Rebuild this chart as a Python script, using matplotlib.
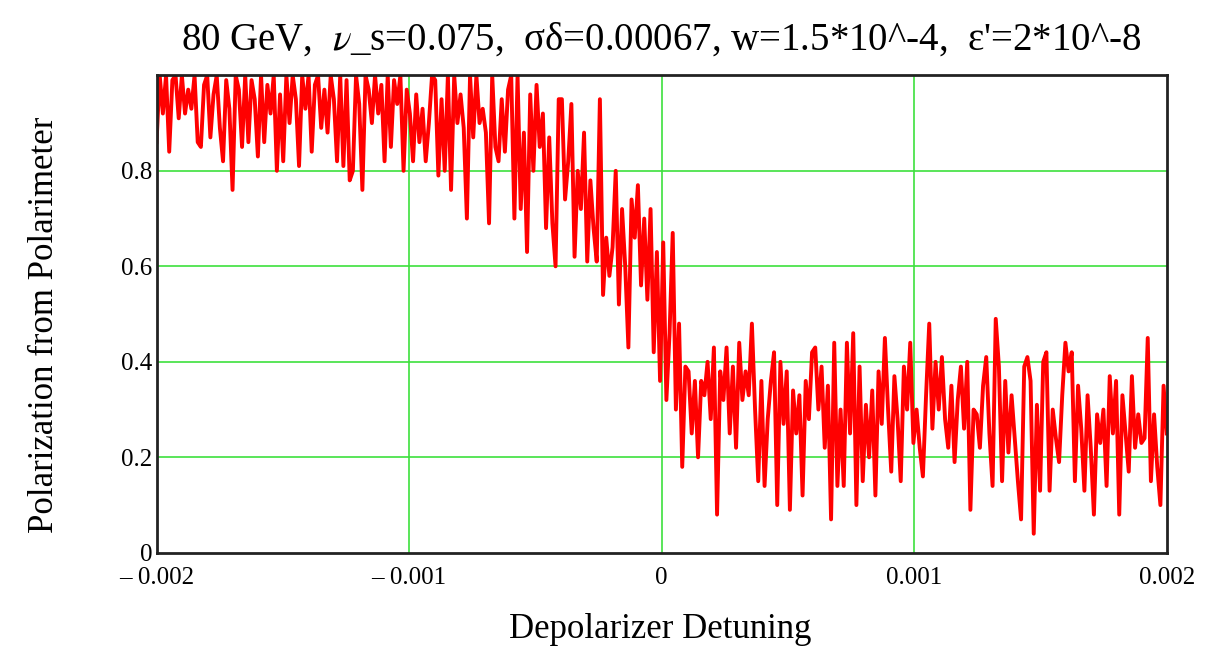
import matplotlib
matplotlib.use('Agg')
import matplotlib.pyplot as plt
import numpy as np

plt.rcParams['font.family'] = ['Liberation Serif', 'DejaVu Serif']
plt.rcParams['mathtext.fontset'] = 'stix'

# polarization, left to right (-0.002 .. 0.002)
pol = [
    0.86, 1.0, 0.92, 1.0, 0.84, 0.99, 1.0, 0.91,
    1.0, 0.92, 0.97, 0.93, 1.0, 0.86, 0.85, 0.98,
    1.0, 0.87, 0.96, 1.0, 0.89, 0.82, 0.99, 0.93,
    0.76, 1.0, 0.97, 0.85, 1.0, 0.86, 0.99, 0.95,
    0.83, 1.0, 0.86, 0.98, 0.92, 1.0, 0.80, 0.96,
    0.82, 1.0, 0.90, 1.0, 0.95, 0.81, 1.0, 0.93,
    1.0, 0.84, 0.98, 1.0, 0.89, 0.97, 0.88, 1.0,
    0.95, 0.82, 1.0, 0.81, 0.99, 0.78, 0.80, 1.0,
    0.94, 0.76, 1.0, 0.97, 0.90, 1.0, 0.92, 0.98,
    0.82, 1.0, 0.85, 0.99, 0.94, 1.0, 0.80, 0.97,
    0.92, 0.82, 0.96, 0.86, 0.93, 0.82, 0.90, 1.0,
    0.99, 0.79, 0.95, 0.80, 1.0, 0.76, 1.0, 0.90,
    0.96, 0.89, 0.70, 1.0, 0.87, 1.0, 0.90, 0.93,
    0.88, 0.69, 1.0, 0.85, 0.82, 0.95, 0.84, 0.97,
    1.0, 0.70, 1.0, 0.72, 0.88, 0.63, 0.96, 0.80,
    0.98, 0.85, 0.92, 0.68, 0.87, 0.69, 0.60, 0.95,
    0.95, 0.74, 0.82, 0.94, 0.62, 0.80, 0.72, 0.88,
    0.61, 0.78, 0.68, 0.61, 0.95, 0.54, 0.66, 0.58,
    0.64, 0.80, 0.52, 0.72, 0.60, 0.43, 0.74, 0.66,
    0.77, 0.56, 0.70, 0.53, 0.72, 0.42, 0.63, 0.36,
    0.65, 0.32, 0.46, 0.67, 0.30, 0.48, 0.18, 0.39,
    0.38, 0.25, 0.36, 0.20, 0.36, 0.33, 0.40, 0.28,
    0.43, 0.08, 0.38, 0.32, 0.43, 0.25, 0.39, 0.22,
    0.44, 0.32, 0.38, 0.33, 0.48, 0.30, 0.15, 0.36,
    0.14, 0.28, 0.36, 0.42, 0.10, 0.40, 0.27, 0.38,
    0.09, 0.34, 0.25, 0.33, 0.12, 0.36, 0.28, 0.42,
    0.43, 0.30, 0.39, 0.22, 0.35, 0.07, 0.44, 0.14,
    0.30, 0.14, 0.44, 0.25, 0.46, 0.10, 0.39, 0.15,
    0.31, 0.20, 0.34, 0.12, 0.38, 0.27, 0.45, 0.30,
    0.17, 0.37, 0.28, 0.15, 0.39, 0.30, 0.44, 0.23,
    0.30, 0.22, 0.16, 0.33, 0.48, 0.26, 0.40, 0.30,
    0.41, 0.28, 0.22, 0.35, 0.19, 0.32, 0.39, 0.26,
    0.40, 0.09, 0.30, 0.29, 0.22, 0.35, 0.41, 0.25,
    0.14, 0.49, 0.39, 0.15, 0.36, 0.21, 0.33, 0.24,
    0.15, 0.07, 0.39, 0.41, 0.36, 0.04, 0.31, 0.13,
    0.40, 0.42, 0.13, 0.30, 0.24, 0.19, 0.33, 0.44,
    0.38, 0.42, 0.15, 0.35, 0.26, 0.13, 0.33, 0.22,
    0.08, 0.29, 0.23, 0.30, 0.14, 0.37, 0.25, 0.36,
    0.08, 0.33, 0.25, 0.17, 0.37, 0.22, 0.29, 0.23,
    0.24, 0.45, 0.15, 0.29, 0.18, 0.10, 0.35, 0.25,
]
detune = np.linspace(-0.002, 0.002, len(pol))

xticks = [-0.002, -0.001, 0, 0.001, 0.002]
xlabels = ['\u2013 0.002', '\u2013 0.001', '0', '0.001', '0.002']
yticks = [0, 0.2, 0.4, 0.6, 0.8]
ylabels = ['0', '0.2', '0.4', '0.6', '0.8']

fig = plt.figure(figsize=(12.23, 6.55), dpi=100)
ax = fig.add_axes([0.128, 0.156, 0.826, 0.729])

# green grid lines
for gx in [-0.001, 0, 0.001]:
    ax.axvline(gx, color='#3de03d', lw=1.2, zorder=1)
for gy in [0.2, 0.4, 0.6, 0.8]:
    ax.axhline(gy, color='#3de03d', lw=1.2, zorder=1)

ax.plot(detune, pol, color='#ff0000', lw=2.8, zorder=2)

ax.set_xlim(-0.002, 0.002)
ax.set_ylim(0, 1.0)
ax.set_xticks(xticks)
ax.set_xticklabels(xlabels, fontsize=18)
ax.set_yticks(yticks)
ax.set_yticklabels(ylabels, fontsize=18)
ax.tick_params(axis='x', length=0, pad=10)
ax.tick_params(axis='y', length=0, pad=3)
for s in ax.spines.values():
    s.set_linewidth(2)
    s.set_color('#222222')

ax.set_xlabel('Depolarizer Detuning', fontsize=25)
ax.set_ylabel('Polarization from Polarimeter', fontsize=25)
ax.xaxis.set_label_coords(0.499, -0.126)
ax.yaxis.set_label_coords(-0.095, 0.477)
fig.text(0.541, 0.940, "80 GeV,  $\\nu$_s=0.075,  \u03c3\u03b4=0.00067, w=1.5*10^-4,  \u03b5'=2*10^-8",
         ha='center', va='center', fontsize=28)

fig.savefig('out.png', dpi=100)
